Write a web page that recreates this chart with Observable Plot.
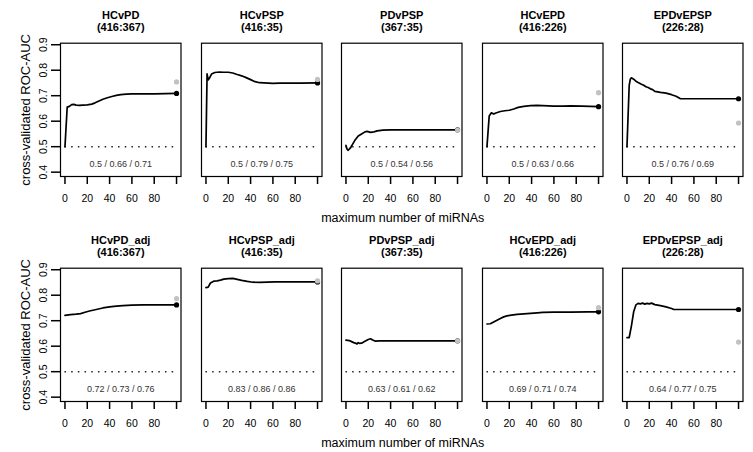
<!DOCTYPE html>
<html><head><meta charset="utf-8">
<script src="https://cdn.jsdelivr.net/npm/d3@7"></script>
<script src="https://cdn.jsdelivr.net/npm/@observablehq/plot@0.6"></script>
<style>
body{margin:0;background:#fff;}
#chart{position:relative;width:753px;height:452px;overflow:hidden;font-family:"Liberation Sans",Arial,sans-serif;background:#fff;}
#chart svg{position:absolute;max-width:none;}
</style></head><body><div id="chart"></div>
<script>
const panelNames = ["HCvPD","HCvPSP","PDvPSP","HCvEPD","EPDvEPSP","HCvPD_adj","HCvPSP_adj","PDvPSP_adj","HCvEPD_adj","EPDvEPSP_adj"];
const panelSizes = ["(416:367)","(416:35)","(367:35)","(416:226)","(226:28)","(416:367)","(416:35)","(367:35)","(416:226)","(226:28)"];
const panelNotes = ["0.5 / 0.66 / 0.71","0.5 / 0.79 / 0.75","0.5 / 0.54 / 0.56","0.5 / 0.63 / 0.66","0.5 / 0.76 / 0.69",
                    "0.72 / 0.73 / 0.76","0.83 / 0.86 / 0.86","0.63 / 0.61 / 0.62","0.69 / 0.71 / 0.74","0.64 / 0.77 / 0.75"];
const grayValues = [0.754, 0.764, 0.565, 0.712, 0.593, 0.787, 0.856, 0.621, 0.751, 0.616];

const curveHCvPD = [[0,0.500],[2,0.655],[4,0.658],[6,0.665],[8,0.666],[10,0.663],[13,0.662],[16,0.663],[20,0.664],[24,0.667],[27,0.672],[30,0.678],[34,0.686],[38,0.692],[42,0.697],[46,0.701],[50,0.704],[55,0.706],[60,0.707],[70,0.707],[80,0.707],[90,0.708],[100,0.709]];
const curveHCvPSP = [[0,0.500],[1,0.786],[2,0.762],[3,0.768],[5,0.785],[8,0.791],[12,0.793],[16,0.792],[20,0.792],[24,0.789],[28,0.783],[32,0.778],[36,0.771],[40,0.763],[44,0.755],[48,0.751],[52,0.750],[56,0.749],[60,0.748],[66,0.749],[75,0.749],[85,0.749],[100,0.750]];
const curvePDvPSP = [[0,0.505],[1,0.490],[2,0.486],[4,0.495],[6,0.510],[8,0.525],[11,0.542],[14,0.550],[17,0.558],[19,0.560],[22,0.556],[25,0.558],[28,0.562],[33,0.565],[40,0.566],[60,0.566],[100,0.566]];
const curveHCvEPD = [[0,0.500],[2,0.620],[4,0.633],[6,0.628],[8,0.632],[12,0.638],[16,0.641],[20,0.643],[24,0.648],[28,0.654],[33,0.658],[39,0.661],[45,0.662],[50,0.661],[55,0.660],[60,0.659],[68,0.659],[75,0.660],[85,0.659],[100,0.657]];
const curveEPDvEPSP = [[0,0.500],[2,0.740],[3,0.765],[4,0.770],[6,0.765],[8,0.757],[10,0.752],[13,0.745],[15,0.741],[17,0.735],[19,0.732],[21,0.727],[23,0.724],[25,0.717],[30,0.713],[35,0.710],[40,0.704],[44,0.698],[48,0.688],[60,0.688],[100,0.688]];
const curveHCvPDadj = [[0,0.721],[5,0.724],[10,0.726],[14,0.728],[18,0.733],[22,0.738],[28,0.744],[34,0.750],[40,0.754],[46,0.757],[52,0.759],[60,0.761],[70,0.762],[80,0.762],[90,0.762],[100,0.762]];
const curveHCvPSPadj = [[0,0.830],[2,0.832],[4,0.848],[7,0.855],[10,0.856],[13,0.859],[16,0.863],[20,0.865],[24,0.866],[28,0.862],[32,0.858],[37,0.854],[42,0.851],[48,0.850],[55,0.851],[62,0.852],[75,0.852],[100,0.852]];
const curvePDvPSPadj = [[0,0.624],[3,0.622],[5,0.618],[7,0.614],[9,0.611],[10,0.609],[11,0.614],[12,0.611],[14,0.612],[17,0.619],[20,0.626],[22,0.629],[24,0.624],[26,0.620],[30,0.621],[40,0.621],[100,0.621]];
const curveHCvEPDadj = [[0,0.687],[3,0.688],[6,0.695],[9,0.702],[12,0.709],[15,0.715],[18,0.719],[22,0.722],[27,0.725],[33,0.727],[39,0.729],[45,0.731],[50,0.733],[60,0.734],[75,0.734],[90,0.735],[100,0.735]];
const curveEPDvEPSPadj = [[0,0.634],[2,0.634],[4,0.680],[6,0.735],[8,0.762],[10,0.768],[12,0.766],[14,0.769],[16,0.765],[18,0.768],[20,0.766],[22,0.769],[25,0.763],[30,0.759],[35,0.754],[40,0.748],[42,0.744],[60,0.744],[100,0.744]];
const curves = [curveHCvPD, curveHCvPSP, curvePDvPSP, curveHCvEPD, curveEPDvEPSP,
                curveHCvPDadj, curveHCvPSPadj, curvePDvPSPadj, curveHCvEPDadj, curveEPDvEPSPadj];

const xTicks = [0, 20, 40, 60, 80, 100];
const yTicks = [0.4, 0.5, 0.6, 0.7, 0.8, 0.9];
const chanceLevel = 0.5;
const maxFeatures = 100;
const xLabel = "maximum number of miRNAs";
const yLabel = "cross-validated ROC-AUC";

const chart = document.getElementById("chart");
const boxW = 120.5, boxH = 133.3, colPitch = 140.6, rowPitch = 225, boxLeft0 = 60, mt = 42.7, mb = 50;
const centered = {textAnchor: "middle", lineAnchor: "middle"};

curves.forEach((curve, i) => {
  const row = Math.floor(i / 5), col = i % 5;
  const ml = col === 0 ? 60 : 10, mr = 10;
  const data = curve.map(([x, y]) => ({x, y}));
  const last = data[data.length - 1];
  const marks = [
    Plot.frame({stroke: "black", strokeWidth: 1.2}),
    Plot.axisX({ticks: xTicks, tickSize: 8, tickPadding: 10, tickFormat: d => d === 100 ? "" : String(d), strokeWidth: 1.5, fontSize: 10.5, label: null}),
    Plot.ruleY([chanceLevel], {x1: 0, x2: maxFeatures, stroke: "#222", strokeWidth: 1.5, strokeDasharray: "1.5,5.2"}),
    Plot.line(data, {x: "x", y: "y", stroke: "black", strokeWidth: 1.7}),
    Plot.dot([last], {x: "x", y: "y", r: 2.6, fill: "black"}),
    Plot.dot([{x: maxFeatures, y: grayValues[i]}], {x: "x", y: "y", r: 2.6, fill: "#c2c2c2"}),
    Plot.text([panelNotes[i]], {text: d => d, frameAnchor: "bottom", dy: -12, fontSize: 9, fill: "#333", ...centered}),
    Plot.text([panelNames[i]], {text: d => d, frameAnchor: "top", dy: -27.7, fontSize: 11, fontWeight: "bold", ...centered}),
    Plot.text([panelSizes[i]], {text: d => d, frameAnchor: "top", dy: -15.7, fontSize: 11, fontWeight: "bold", ...centered})
  ];
  if (col === 0) {
    marks.push(Plot.axisY({ticks: yTicks, tickSize: 9, tickPadding: 4.5, tickRotate: -90, tickFormat: d3.format(".1f"), strokeWidth: 1.5, fontSize: 10.5, label: null}));
    marks.push(Plot.text([yLabel], {text: d => d, frameAnchor: "left", dx: -35, rotate: -90, fontSize: 13, ...centered}));
  }
  if (col === 2) {
    marks.push(Plot.text([xLabel], {text: d => d, frameAnchor: "bottom", dy: 41, dx: 1, fontSize: 12.5, ...centered}));
  }
  const svg = Plot.plot({
    width: ml + boxW + mr,
    height: mt + boxH + mb,
    marginLeft: ml, marginRight: mr, marginTop: mt, marginBottom: mb,
    x: {domain: [-4, 104], axis: null},
    y: {domain: [0.383, 0.906], axis: null},
    style: {fontFamily: "'Liberation Sans', Arial, sans-serif", background: "transparent", overflow: "visible", color: "black"},
    marks
  });
  svg.style.left = (boxLeft0 + col * colPitch - ml) + "px";
  svg.style.top = (row * rowPitch) + "px";
  chart.appendChild(svg);
});
</script>
</body></html>
